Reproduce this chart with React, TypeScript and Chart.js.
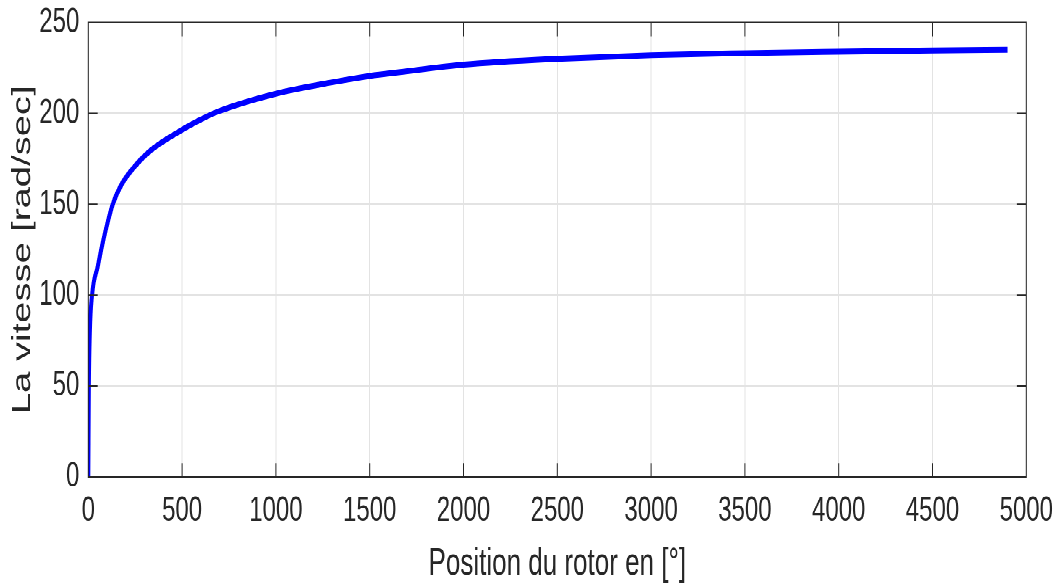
import React, { useEffect, useRef } from "react";
import { Chart, registerables } from "chart.js";

Chart.register(...registerables);

// Data
const positionDeg: number[] = [0, 3, 8, 20, 50, 80, 130, 180, 245, 334, 501, 592, 684, 1000, 1306, 1500, 1662, 2000, 2500, 3000, 3500, 4000, 4500, 4900];
const vitesse: number[] = [0, 50, 79, 100, 115.6, 130.2, 149.8, 161.4, 170.5, 179.7, 191, 196.2, 200.7, 210.8, 217.2, 220.6, 222.7, 226.8, 230.0, 232.0, 233.1, 233.9, 234.6, 235.0];

const xTitle = "Position du rotor en [°]";
const yTitle = "La vitesse [rad/sec]";
const xMin = 0, xMax = 5000, xStep = 500;
const yMin = 0, yMax = 250, yStep = 50;

const FONT = "'Liberation Sans', Arial, Helvetica, sans-serif";
const AXIS_COLOR = "#262626";
const GRID_COLOR = "#e3e3e3";
const BASE_H = 400;
const STRETCH = 587 / BASE_H;
const TICK_LEN = 9.4;

const boxPlugin = {
  id: "matlabBox",
  afterDatasetsDraw(chart: any) {
    const { ctx, chartArea: a, scales } = chart;
    const xs = scales.x, ys = scales.y;
    ctx.save();
    ctx.strokeStyle = AXIS_COLOR;
    ctx.lineWidth = 1;
    ctx.beginPath();
    ctx.rect(a.left, a.top, a.right - a.left, a.bottom - a.top);
    xs.ticks.forEach((t: any) => {
      const px = xs.getPixelForValue(t.value);
      ctx.moveTo(px, a.bottom);
      ctx.lineTo(px, a.bottom - TICK_LEN);
      ctx.moveTo(px, a.top);
      ctx.lineTo(px, a.top + TICK_LEN);
    });
    ys.ticks.forEach((t: any) => {
      const py = ys.getPixelForValue(t.value);
      ctx.moveTo(a.left, py);
      ctx.lineTo(a.left + TICK_LEN, py);
      ctx.moveTo(a.right, py);
      ctx.lineTo(a.right - TICK_LEN, py);
    });
    ctx.stroke();
    ctx.restore();
  },
};

export default function App() {
  const canvasRef = useRef<HTMLCanvasElement | null>(null);

  useEffect(() => {
    if (!canvasRef.current) return;
    const points = positionDeg.map((x, i) => ({ x, y: vitesse[i] }));
    const chart = new Chart(canvasRef.current, {
      type: "line",
      data: {
        datasets: [
          {
            data: points,
            borderColor: "#0000ff",
            borderWidth: 4,
            pointRadius: 0,
            fill: false,
            cubicInterpolationMode: "monotone",
          },
        ],
      },
      options: {
        animation: false,
        responsive: true,
        maintainAspectRatio: false,
        devicePixelRatio: 2,
        layout: { padding: { top: 15.3, right: 30.7, left: 0, bottom: 0 } },
        plugins: { legend: { display: false }, tooltip: { enabled: false }, title: { display: false } },
        scales: {
          x: {
            type: "linear",
            min: xMin,
            max: xMax,
            border: { display: false },
            grid: { color: GRID_COLOR, drawTicks: false, lineWidth: 1 },
            ticks: {
              stepSize: xStep,
              padding: 9,
              color: AXIS_COLOR,
              maxRotation: 0,
              autoSkip: false,
              font: { family: FONT, size: 24 },
              callback: (v: any) => String(v),
            },
            title: {
              display: true,
              text: xTitle,
              color: AXIS_COLOR,
              font: { family: FONT, size: 26 },
              padding: { top: 0, bottom: 0 },
            },
            afterFit: (s: any) => {
              s.height = BASE_H - 325;
              s.paddingLeft = 0;
              s.paddingRight = 0;
            },
          },
          y: {
            type: "linear",
            min: yMin,
            max: yMax,
            border: { display: false },
            grid: { color: GRID_COLOR, drawTicks: false, lineWidth: 1 },
            ticks: {
              stepSize: yStep,
              padding: 9,
              color: AXIS_COLOR,
              font: { family: FONT, size: 24 },
              callback: (v: any) => String(v),
            },
            title: {
              display: true,
              text: yTitle,
              color: AXIS_COLOR,
              font: { family: FONT, size: 26 },
              padding: { top: 7.4, bottom: 0 },
            },
            afterFit: (s: any) => {
              s.width = 88.3;
              s.paddingTop = 0;
              s.paddingBottom = 0;
            },
          },
        },
      },
      plugins: [boxPlugin],
    });
    return () => chart.destroy();
  }, []);

  return (
    <div
      style={{
        position: "fixed",
        left: 0,
        top: 0,
        width: 1057,
        height: BASE_H,
        transform: `scaleY(${STRETCH})`,
        transformOrigin: "0 0",
        background: "#ffffff",
      }}
    >
      <canvas ref={canvasRef} />
    </div>
  );
}
